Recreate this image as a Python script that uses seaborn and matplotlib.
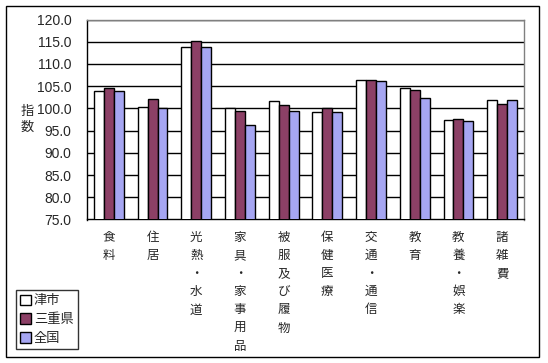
import matplotlib
matplotlib.use("Agg")
import matplotlib.pyplot as plt
from matplotlib.patches import Rectangle
import numpy as np
import pandas as pd
import seaborn as sns

categories = ["食料", "住居", "光熱・水道", "家具・家事用品", "被服及び履物",
              "保健医療", "交通・通信", "教育", "教養・娯楽", "諸雑費"]
tsu = [103.9, 100.3, 113.8, 100.0, 101.6, 99.1, 106.5, 104.7, 97.3, 102.0]
mie = [104.5, 102.1, 115.1, 99.4, 100.7, 100.2, 106.3, 104.1, 97.6, 101.1]
zenkoku = [103.9, 100.0, 113.8, 96.2, 99.5, 99.3, 106.1, 102.3, 97.1, 102.0]
series_names = ["津市", "三重県", "全国"]
colors = ["#FFFFFF", "#993366", "#9999FF"]

sns.set_style("white")
plt.rcParams["font.family"] = ["Noto Sans CJK JP", "DejaVu Sans"]

rows = []
for name, vals in zip(series_names, [tsu, mie, zenkoku]):
    for c, v in zip(categories, vals):
        rows.append({"cat": c, "series": name, "value": v})
df = pd.DataFrame(rows)

fig = plt.figure(figsize=(5.48, 3.63), dpi=100)
ax = fig.add_axes([87 / 548, 1 - 219.5 / 363, 437 / 548, 200 / 363])

sns.barplot(data=df, x="cat", y="value", hue="series", order=categories,
            hue_order=series_names, palette=colors, width=0.68,
            edgecolor="black", linewidth=1, ax=ax, zorder=3)

ax.set_ylim(75, 120)
ax.set_xlim(-0.5, len(categories) - 0.5)
ax.set_yticks(np.arange(75, 120.1, 5))
ax.set_yticklabels([f"{v:.1f}" for v in np.arange(75, 120.1, 5)],
                   fontsize=10, family="Liberation Sans")
ax.yaxis.grid(True, color="black", linewidth=1, zorder=0)
ax.set_axisbelow(True)
ax.tick_params(axis="y", length=0, pad=11)

ax.set_xticks(range(len(categories)))
ax.set_xticklabels(["\n".join(c) for c in categories], fontsize=9,
                   linespacing=1.52, va="top")
ax.tick_params(axis="x", which="major", length=0, pad=8)
ax.set_xticks(np.arange(0.5, len(categories) - 0.5, 1), minor=True)
ax.tick_params(axis="x", which="minor", direction="in", length=4, width=1,
               color="black")
ax.set_xlabel("")
ax.set_ylabel("")

for s in ["left", "bottom"]:
    ax.spines[s].set_color("black")
    ax.spines[s].set_linewidth(1)
for s in ["top", "right"]:
    ax.spines[s].set_color("#808080")
    ax.spines[s].set_linewidth(1)

fig.text(27 / 548, 1 - 119 / 363, "指\n数", fontsize=9.5, ha="center",
         va="center", linespacing=1.3)

handles, labels = ax.get_legend_handles_labels()
leg = ax.legend(handles, labels, loc="lower left",
                bbox_to_anchor=(16 / 548, 1 - 349 / 363),
                bbox_transform=fig.transFigure, fontsize=9.5, frameon=True,
                fancybox=False, edgecolor="black", handlelength=0.8,
                handleheight=0.8, handletextpad=0.25, borderpad=0.3,
                labelspacing=0.45, borderaxespad=0)
leg.get_frame().set_linewidth(1)

fig.patches.append(Rectangle((6 / 548, 1 - 357 / 363), 533 / 548, 351 / 363,
                             transform=fig.transFigure, fill=False,
                             edgecolor="black", linewidth=1))

fig.savefig("out.png", dpi=100)
